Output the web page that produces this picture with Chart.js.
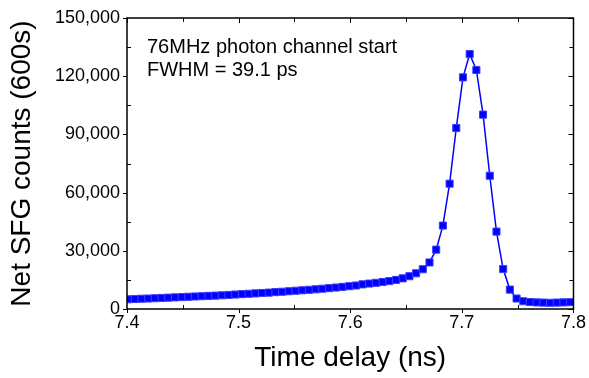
<!DOCTYPE html>
<html lang="en">
<head>
<meta charset="UTF-8">
<title>Net SFG counts</title>
<script src="https://cdn.jsdelivr.net/npm/chart.js"></script>
<style>
  html, body { margin: 0; padding: 0; background: #fff; }
</style>
</head>
<body>
<canvas id="sfgChart" width="589" height="378"></canvas>
<script>
// time delay (ns), one point every ~6 ps
const delayNs = [
  7.401, 7.407, 7.413, 7.419, 7.425, 7.431, 7.437, 7.443, 7.449, 7.455,
  7.461, 7.467, 7.473, 7.479, 7.485, 7.491, 7.497, 7.503, 7.509, 7.515,
  7.521, 7.527, 7.533, 7.539, 7.545, 7.551, 7.557, 7.563, 7.569, 7.575,
  7.581, 7.587, 7.593, 7.599, 7.605, 7.611, 7.617, 7.623, 7.629, 7.635,
  7.641, 7.647, 7.653, 7.659, 7.665, 7.671, 7.677, 7.683, 7.689, 7.695,
  7.701, 7.707, 7.713, 7.719, 7.725, 7.731, 7.737, 7.743, 7.749, 7.755,
  7.761, 7.767, 7.773, 7.779, 7.785, 7.791, 7.797
];
// net SFG counts in 600 s
const netCounts = [
  5000, 5150, 5300, 5400, 5550, 5700, 5850, 6000, 6150, 6300,
  6450, 6600, 6750, 6900, 7050, 7250, 7450, 7650, 7850, 8050,
  8250, 8450, 8700, 8900, 9150, 9400, 9650, 9900, 10150, 10450,
  10750, 11050, 11400, 11750, 12100, 12700, 13100, 13500, 13900, 14400,
  15000, 15800, 16900, 18400, 20500, 24000, 30600, 43000, 64600, 93300,
  119400, 131400, 123200, 100200, 68700, 39900, 20600, 10000, 5400, 4000,
  3600, 3400, 3300, 3200, 3300, 3400, 3500
];
const xMajorTicks = [7.4, 7.5, 7.6, 7.7, 7.8];
const xMinorTicks = [7.45, 7.55, 7.65, 7.75];
const yMajorTicks = [0, 30000, 60000, 90000, 120000, 150000];
const yMinorTicks = [15000, 45000, 75000, 105000, 135000];
const noteLines = ['76MHz photon channel start', 'FWHM = 39.1 ps'];

Chart.defaults.font.family = '"Liberation Sans", Arial, sans-serif';
Chart.defaults.color = '#000';

// box round the plot, ticks, and the note
const frameTicks = {
  id: 'frameTicks',
  afterDraw(chart) {
    const { ctx, chartArea: a, scales: { x, y } } = chart;
    ctx.save();
    ctx.strokeStyle = '#000';
    ctx.lineWidth = 1.5;
    ctx.strokeRect(a.left, a.top, a.right - a.left, a.bottom - a.top);
    ctx.lineWidth = 1;
    ctx.beginPath();
    xMajorTicks.forEach(v => {
      const px = Math.round(x.getPixelForValue(v)) + 0.5;
      ctx.moveTo(px, a.bottom); ctx.lineTo(px, a.bottom + 4);
      ctx.moveTo(px, a.top); ctx.lineTo(px, a.top + 5);
    });
    xMinorTicks.forEach(v => {
      const px = Math.round(x.getPixelForValue(v)) + 0.5;
      ctx.moveTo(px, a.bottom); ctx.lineTo(px, a.bottom - 4);
      ctx.moveTo(px, a.top); ctx.lineTo(px, a.top + 4);
    });
    yMajorTicks.forEach(v => {
      const py = Math.round(y.getPixelForValue(v)) + 0.5;
      ctx.moveTo(a.left, py); ctx.lineTo(a.left - 4, py);
      ctx.moveTo(a.right, py); ctx.lineTo(a.right - 5, py);
    });
    yMinorTicks.forEach(v => {
      const py = Math.round(y.getPixelForValue(v)) + 0.5;
      ctx.moveTo(a.left, py); ctx.lineTo(a.left + 4, py);
      ctx.moveTo(a.right, py); ctx.lineTo(a.right - 4, py);
    });
    ctx.stroke();

    ctx.fillStyle = '#000';
    ctx.font = '20px "Liberation Sans", Arial, sans-serif';
    ctx.textBaseline = 'alphabetic';
    ctx.fillText(noteLines[0], a.left + 20, a.top + 35);
    ctx.fillText(noteLines[1], a.left + 20, a.top + 58);
    ctx.restore();
  }
};

new Chart(document.getElementById('sfgChart'), {
  type: 'line',
  data: {
    datasets: [{
      data: delayNs.map((t, i) => ({ x: t, y: netCounts[i] })),
      borderColor: '#0000ff',
      borderWidth: 1.5,
      tension: 0,
      pointStyle: 'rect',
      pointRadius: 5,
      pointBackgroundColor: '#0000ff',
      pointBorderColor: '#3c3cff',
      pointBorderWidth: 1
    }]
  },
  options: {
    responsive: false,
    animation: false,
    layout: { padding: { left: 0, right: 13, top: 18, bottom: 0 } },
    plugins: { legend: { display: false }, tooltip: { enabled: false } },
    scales: {
      x: {
        type: 'linear',
        min: 7.4,
        max: 7.8,
        afterFit: s => { s.height = 69; },
        afterBuildTicks: s => { s.ticks = xMajorTicks.map(v => ({ value: v })); },
        ticks: {
          font: { size: 18 },
          padding: 3,
          maxRotation: 0,
          callback: v => Number(v).toFixed(1)
        },
        grid: { display: true, drawOnChartArea: false, drawTicks: false },
        border: { display: false },
        title: {
          display: true,
          text: 'Time delay (ns)',
          font: { size: 28 },
          padding: { top: 0, bottom: 3 }
        }
      },
      y: {
        min: 0,
        max: 150000,
        afterFit: s => { s.width = 127; },
        afterBuildTicks: s => { s.ticks = yMajorTicks.map(v => ({ value: v })); },
        ticks: {
          font: { size: 18 },
          padding: 7,
          callback: v => Number(v).toLocaleString('en-US')
        },
        grid: { display: true, drawOnChartArea: false, drawTicks: false },
        border: { display: false },
        title: {
          display: true,
          text: 'Net SFG counts (600s)',
          font: { size: 28 },
          padding: { top: 5, bottom: 0 }
        }
      }
    }
  },
  plugins: [frameTicks]
});
</script>
</body>
</html>
